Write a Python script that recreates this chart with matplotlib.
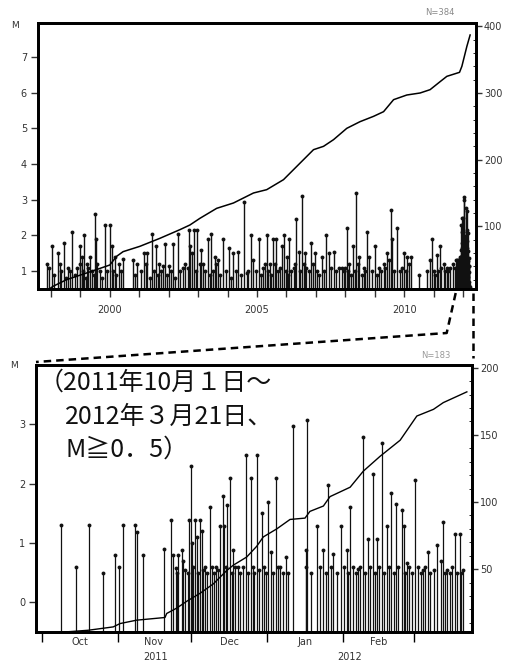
import numpy as np
import matplotlib
matplotlib.use('Agg')
import matplotlib.pyplot as plt
from matplotlib.lines import Line2D

# ---- data ----
# long-term panel: event time (decimal year) and magnitude
top_years = [1997.85, 1998.02, 1998.24, 1998.30, 1998.44, 1998.58, 1998.73, 1998.87, 1998.98,
             1999.04, 1999.12, 1999.23, 1999.32, 1999.49, 1999.52, 1999.66, 1999.84, 2000.00,
             2000.06, 2000.17, 2000.32, 2000.45, 2000.79, 2000.91, 2001.16, 2001.27, 2001.44,
             2001.56, 2001.68, 2001.81, 2001.89, 2002.02, 2002.15, 2002.32, 2002.47, 2002.70,
             2002.74, 2002.86, 2002.97, 2003.10, 2003.17, 2003.33, 2003.45, 2003.57, 2003.68,
             2003.85, 2004.06, 2004.20, 2004.35, 2004.56, 2004.65, 2004.78, 2004.88, 2005.08,
             2005.27, 2005.33, 2005.44, 2005.53, 2005.65, 2005.84, 2005.92, 2006.01, 2006.10,
             2006.24, 2006.33, 2006.41, 2006.52, 2006.63, 2006.83, 2006.97, 2007.20, 2007.35,
             2007.43, 2007.62, 2007.80, 2008.05, 2008.14, 2008.25, 2008.37, 2008.48, 2008.64,
             2008.73, 2008.82, 2009.01, 2009.13, 2009.30, 2009.43, 2009.55, 2009.58, 2009.75,
             2010.00, 2010.11, 2010.23, 2010.49, 2010.77, 2010.88, 2010.94, 2011.11, 2011.20,
             2011.34, 2011.45, 2011.66]
top_mags = [1.2, 1.7, 1.5, 1.2, 1.8, 1.1, 2.1, 1.1, 1.7,
            1.4, 2.0, 1.2, 1.4, 2.6, 1.9, 1.0, 2.3, 2.3,
            1.7, 1.4, 1.2, 1.35, 1.3, 1.2, 1.5, 1.5, 2.05,
            1.7, 1.2, 1.15, 1.75, 1.15, 1.75, 2.05, 1.1, 2.15,
            1.7, 2.15, 2.15, 1.6, 1.2, 1.9, 2.05, 1.4, 1.3,
            1.9, 1.65, 1.5, 1.55, 2.95, 0.95, 2.0, 1.3, 1.9,
            1.2, 2.0, 1.2, 1.9, 1.9, 1.7, 2.0, 1.4, 1.9,
            1.1, 2.45, 1.55, 3.1, 1.5, 1.8, 1.5, 1.4, 2.0,
            1.5, 1.55, 1.1, 2.2, 1.2, 1.7, 3.2, 1.4, 1.1,
            2.1, 1.4, 1.7, 1.1, 1.2, 1.5, 2.7, 1.9, 2.2,
            1.5, 1.4, 1.4, 0.9, 1.0, 1.3, 1.9, 1.45, 1.7,
            1.2, 1.1, 1.2]
# smaller events hidden in the dense band
small_years = [1997.95, 1998.10, 1998.35, 1998.50, 1998.65, 1998.80, 1999.00, 1999.08, 1999.18,
               1999.27, 1999.40, 1999.45, 1999.58, 1999.72, 1999.90, 2000.10, 2000.22, 2000.38,
               2000.85, 2001.05, 2001.22, 2001.35, 2001.50, 2001.62, 2001.75, 2001.95, 2002.08,
               2002.22, 2002.40, 2002.55, 2002.64, 2002.80, 2002.92, 2003.05, 2003.22, 2003.40,
               2003.52, 2003.62, 2003.75, 2003.95, 2004.12, 2004.28, 2004.45, 2004.70, 2004.95,
               2005.12, 2005.20, 2005.38, 2005.48, 2005.60, 2005.72, 2005.78, 2005.97, 2006.05,
               2006.17, 2006.28, 2006.45, 2006.58, 2006.68, 2006.75, 2006.90, 2007.05, 2007.12,
               2007.28, 2007.50, 2007.70, 2007.88, 2007.95, 2008.00, 2008.10, 2008.20, 2008.32,
               2008.42, 2008.58, 2008.68, 2008.90, 2009.08, 2009.20, 2009.36, 2009.48, 2009.65,
               2009.85, 2009.93, 2010.05, 2010.17, 2011.00, 2011.05, 2011.15, 2011.25, 2011.38,
               2011.50, 2011.56, 2011.72]
small_mags = [1.1, 0.9, 1.0, 0.8, 1.0, 0.9, 1.2, 1.0, 0.8,
              1.1, 1.0, 0.9, 1.2, 0.8, 1.0, 1.0, 0.9, 1.0,
              0.9, 1.0, 1.2, 0.8, 1.0, 0.9, 1.0, 0.9, 1.0,
              0.8, 1.0, 1.2, 1.1, 1.5, 1.0, 1.2, 1.0, 0.9,
              1.0, 1.2, 0.9, 1.0, 0.8, 1.0, 0.9, 1.0, 1.0,
              0.9, 1.1, 1.0, 0.9, 1.2, 1.0, 1.1, 1.0, 0.9,
              1.0, 1.2, 1.0, 1.2, 1.1, 1.0, 1.2, 1.0, 0.9,
              1.0, 1.1, 1.0, 1.1, 1.0, 1.1, 1.0, 0.9, 1.0,
              1.2, 0.9, 1.0, 1.0, 0.9, 1.0, 1.1, 1.3, 1.0,
              1.0, 1.1, 1.0, 1.2, 1.0, 0.9, 1.0, 1.1, 1.0,
              1.0, 1.1, 1.1]
# cumulative number, long-term panel
cum_years = [1997.85, 1998.07, 1998.53, 1999.21, 2000.00, 2000.23, 2000.45, 2001.02, 2001.70,
             2002.38, 2002.72, 2003.06, 2003.63, 2004.20, 2004.88, 2005.33, 2005.90, 2006.24,
             2006.58, 2006.92, 2007.26, 2007.60, 2008.05, 2008.50, 2008.96, 2009.30, 2009.64,
             2010.09, 2010.54, 2010.88, 2011.22, 2011.45, 2011.88, 2011.96, 2012.13, 2012.24]
cum_counts = [3, 10, 20, 30, 42, 55, 62, 70, 82,
              95, 102, 112, 127, 135, 150, 155, 170, 185,
              200, 215, 220, 230, 247, 257, 265, 272, 290,
              297, 300, 305, 317, 325, 331, 340, 370, 387]

# recent panel: days since 2011-10-01 and magnitude
recent_days = [7.9, 14.0, 19.4, 24.9, 29.9, 31.7, 33.0, 38.1, 38.7, 41.2, 49.9, 52.6, 53.7,
               54.8, 55.7, 57.1, 57.5, 60.1, 60.8, 61.2, 62.5, 63.2, 64.6, 65.3, 66.6, 68.7,
               71.1, 72.7, 73.8, 74.4, 75.5, 76.8, 78.2, 80.2, 83.2, 85.2, 87.7, 89.7, 92.5,
               93.4, 95.6, 97.2, 99.7, 102.4, 107.8, 108.4, 112.2, 114.9, 116.9, 119.0, 122.0,
               124.4, 125.8, 129.2, 130.9, 133.0, 135.0, 136.6, 138.7, 141.0, 142.4, 144.5,
               146.8, 147.8, 148.9, 152.3, 155.7, 157.4, 161.1, 162.7, 163.8, 165.2, 168.6,
               170.6, 172.0]
recent_mags = [1.30, 0.60, 1.31, 0.50, 0.80, 0.60, 1.30, 1.30, 1.19, 0.80, 0.90, 1.39, 0.80,
               0.58, 0.80, 0.88, 0.70, 1.39, 2.30, 1.00, 1.39, 1.10, 1.39, 1.20, 0.60, 1.60,
               0.60, 1.29, 1.79, 1.29, 1.64, 2.10, 0.88, 0.60, 2.48, 2.09, 2.48, 1.50, 1.69,
               0.85, 2.09, 0.60, 0.76, 2.98, 0.88, 3.08, 1.29, 0.88, 1.98, 0.82, 1.28, 0.88,
               1.61, 0.56, 2.78, 1.07, 2.16, 1.07, 2.68, 1.28, 1.85, 1.66, 1.56, 1.28, 0.66,
               2.06, 0.55, 0.85, 0.97, 0.69, 1.36, 0.55, 1.15, 1.15, 0.55]
recent_small_days = [55.0, 58.5, 59.5, 61.8, 63.8, 66.0, 67.5, 69.5, 70.3, 72.0, 75.0, 77.5,
                     79.0, 81.0, 82.3, 84.0, 86.0, 86.8, 88.6, 90.5, 91.5, 94.3, 96.3, 98.5,
                     100.5, 108.0, 110.0, 113.5, 116.0, 118.0, 120.5, 123.3, 125.0, 127.0,
                     128.2, 130.0, 132.0, 134.0, 135.8, 137.5, 139.8, 141.8, 143.5, 145.5,
                     148.2, 150.0, 151.0, 153.5, 154.6, 156.5, 158.5, 160.0, 164.5, 166.5,
                     167.5, 169.5, 171.0]
recent_small_mags = [0.5, 0.55, 0.5, 0.6, 0.5, 0.55, 0.5, 0.6, 0.5, 0.55, 0.6, 0.5,
                     0.6, 0.5, 0.6, 0.5, 0.6, 0.5, 0.55, 0.6, 0.5, 0.5, 0.6, 0.5,
                     0.5, 0.6, 0.5, 0.6, 0.5, 0.6, 0.5, 0.6, 0.5, 0.6,
                     0.5, 0.6, 0.5, 0.6, 0.5, 0.6, 0.5, 0.6, 0.5, 0.6,
                     0.5, 0.6, 0.5, 0.6, 0.5, 0.6, 0.5, 0.55, 0.5, 0.5,
                     0.6, 0.5, 0.5]
recent_cum_days = [7.9, 19.0, 29.2, 32.0, 38.7, 50.3, 51.0, 55.1, 59.1, 64.6, 70.0, 75.5, 78.2,
                   83.6, 87.7, 90.4, 95.9, 101.3, 107.4, 109.4, 114.9, 117.6, 125.8, 131.2,
                   138.0, 146.2, 153.0, 159.8, 163.8, 173.4]
recent_cum_counts = [3, 4.5, 7, 9.5, 12, 14, 17, 21, 26, 32, 39, 49, 53,
                     59, 67, 74, 80, 87, 88, 93, 97, 104, 111, 123,
                     134, 146, 164, 169, 174, 182]

month_starts = [0, 31, 61, 92, 123, 152]
month_mids = [15.5, 45.5, 76.5, 107.5, 137.5]
month_names = ['Oct', 'Nov', 'Dec', 'Jan', 'Feb']
zoom_start = 2011.75

PX = 0.72  # points per pixel at dpi 100
ink = '#111111'
tick_col = '#333333'

fig = plt.figure(figsize=(5.26, 6.64), dpi=100)
ax1 = fig.add_axes([38/526, 1-289/664, 438/526, 266/664])
ax1r = ax1.twinx()
ax2 = fig.add_axes([36/526, 1-632/664, 436/526, 267/664])
ax2r = ax2.twinx()

# events of the recent window also appear in the long-term plot
rd = np.array(recent_days + recent_small_days)
rm = np.array(recent_mags + recent_small_mags)
ty = np.concatenate([top_years, small_years, zoom_start + rd / 365.25])
tm = np.concatenate([top_mags, small_mags, rm])

# ---- upper panel ----
ax1.set_xlim(1997.56, 2012.44)
ax1.set_ylim(0.5, 7.95)
ax1.vlines(ty, 0.5, tm, color=ink, lw=1.0)
ax1.plot(ty, tm, 'o', ms=2.8, color=ink, mec='none')
ax1r.plot(cum_years, cum_counts, color='k', lw=1.1)
ax1r.set_ylim(6, 405)

ax1.set_xticks([2000, 2005, 2010])
ax1.set_xticks(range(1998, 2013), minor=True)
ax1.tick_params(axis='x', which='both', direction='out', length=8*PX, width=1,
                labelsize=7, pad=8*PX, colors=tick_col)
ax1.set_yticks(range(1, 8))
ax1.tick_params(axis='y', direction='out', length=7*PX, width=1, labelsize=7,
                pad=4*PX, colors=tick_col)
ax1r.set_yticks([100, 200, 300, 400])
ax1r.set_yticks(range(20, 400, 20), minor=True)
ax1r.tick_params(axis='y', which='major', direction='out', length=6*PX, width=1,
                 labelsize=7, pad=2*PX, colors=tick_col)
ax1r.tick_params(axis='y', which='minor', direction='in', length=3*PX, width=0.6)
ax1.annotate('M', xy=(0, 1), xycoords='axes fraction', xytext=(-23, -2),
             textcoords='offset pixels', ha='center', va='center', fontsize=6.5,
             color=tick_col)
ax1.annotate('N=384', xy=(1, 1), xycoords='axes fraction', xytext=(-36, 11),
             textcoords='offset pixels', ha='center', va='center', fontsize=6,
             color='#888888')

# ---- lower panel ----
ax2.set_xlim(-2.3, 175.5)
ax2.set_ylim(-0.5, 4.0)
ax2.vlines(rd, -0.5, rm, color=ink, lw=0.9)
ax2.plot(rd, rm, 'o', ms=2.8, color=ink, mec='none')
ax2r.plot(recent_cum_days, recent_cum_counts, color='k', lw=1.0)
ax2r.set_ylim(3.2, 202)

ax2.set_xticks(month_starts)
ax2.set_xticklabels([])
ax2.set_xticks(month_mids, minor=True)
ax2.set_xticklabels(month_names, minor=True)
ax2.tick_params(axis='x', which='major', direction='out', length=10*PX, width=1)
ax2.tick_params(axis='x', which='minor', length=0, labelsize=7, pad=5*PX, colors=tick_col)
ax2.set_yticks([0, 1, 2, 3])
ax2.tick_params(axis='y', direction='out', length=7*PX, width=1, labelsize=7,
                pad=4*PX, colors=tick_col)
ax2r.set_yticks([50, 100, 150, 200])
ax2r.set_yticks(range(10, 200, 10), minor=True)
ax2r.tick_params(axis='y', which='major', direction='out', length=6*PX, width=1,
                 labelsize=7, pad=2*PX, colors=tick_col)
ax2r.tick_params(axis='y', which='minor', direction='in', length=3*PX, width=0.6)
for lab, d in [('2011', 46.5), ('2012', 125.5)]:
    ax2.annotate(lab, xy=(d, 0), xycoords=('data', 'axes fraction'), xytext=(0, -25),
                 textcoords='offset pixels', ha='center', va='center', fontsize=7,
                 color=tick_col)
ax2.annotate('M', xy=(0, 1), xycoords='axes fraction', xytext=(-22, 0),
             textcoords='offset pixels', ha='center', va='center', fontsize=6.5,
             color=tick_col)
ax2.annotate('N=183', xy=(1, 1), xycoords='axes fraction', xytext=(-36, 10),
             textcoords='offset pixels', ha='center', va='center', fontsize=6,
             color='#999999')

jp = ['Noto Sans CJK JP', 'DejaVu Sans']
note_lines = [('（2011年10月１日～', 3), ('2012年３月21日、', 29), ('M≧0．5）', 29)]
for i, (line, dx) in enumerate(note_lines):
    ax2.annotate(line, xy=(0, 1), xycoords='axes fraction', xytext=(dx, -5 - 33.5*i),
                 textcoords='offset pixels', ha='left', va='top', fontsize=18,
                 family=jp, color='#111111')

for a in (ax1, ax1r, ax2, ax2r):
    for s in a.spines.values():
        s.set_linewidth(2.0)

# ---- dashed connectors between the panels ----
fig.canvas.draw()
to_fig = fig.transFigure.inverted()
x0, y0 = ax1.transData.transform((zoom_start, 0.5))
xr, _ = ax1.transAxes.transform((0.993, 0))
bx, by = ax2.transAxes.transform((0, 1))
pts = [(x0, y0 - 4), (x0 - 9, y0 - 44), (bx, by + 3)]
pts = to_fig.transform(pts)
fig.add_artist(Line2D(pts[:, 0], pts[:, 1], transform=fig.transFigure, color='k',
                      lw=1.8, linestyle=(0, (3, 2))))
vpts = to_fig.transform([(xr, y0 - 4), (xr, by + 7)])
fig.add_artist(Line2D(vpts[:, 0], vpts[:, 1], transform=fig.transFigure, color='k',
                      lw=1.8, linestyle=(0, (3, 2))))

fig.savefig('out.png', dpi=100, facecolor='white')
